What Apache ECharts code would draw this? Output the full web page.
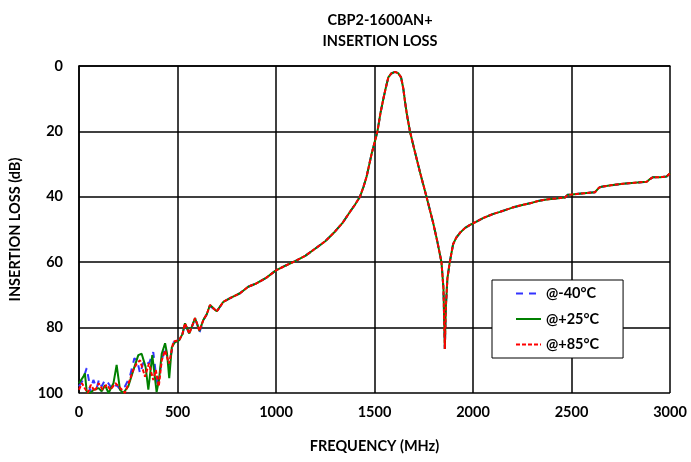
<!DOCTYPE html>
<html>
<head>
<meta charset="utf-8">
<script src="https://cdn.jsdelivr.net/npm/echarts@6/dist/echarts.min.js"></script>
<style>
html,body{margin:0;padding:0;background:#fff;}
#chart{width:691px;height:462px;}
</style>
</head>
<body>
<div id="chart"></div>
<script>
// Low-frequency (noisy) region, per temperature: [MHz, dB]
var low40 = [[0,98],[20,96],[39,92.4],[50,96],[56,99.5],[73,96],[90,98.5],[101,96],[115,98],[132,96],[149,97],[170,99],[191,97.5],[210,99],[233,98],[258,95],[281,89.4],[295,90],[310,94],[330,90],[355,91],[377,87.5],[390,94],[400,98],[420,90],[437,86],[457,91.5],[479,84.5],[509,83.8],[525,82],[538,79],[560,81.8],[589,77.3],[600,79],[611,81.6],[631,77.7],[648,76],[665,73.3],[699,75.1],[733,72.1],[767,71],[817,69.5],[859,67.5]];
var low25 = [[0,97],[22,95],[30,94],[39,99.5],[56,100],[75,99],[100,98.5],[115,99.5],[132,97.6],[150,100],[175,97],[191,91.4],[208,99],[225,100],[250,98],[276,93],[301,88.4],[318,88],[338,92],[352,99],[372,88.4],[394,99.7],[406,96],[420,88],[437,84.8],[447,88],[458,95.5],[471,86],[487,84.5],[509,83.8],[525,82],[538,78.7],[560,81.8],[589,77.1],[600,78.9],[611,81],[631,77.7],[648,76],[665,73.1],[699,75],[733,72.1],[767,71],[817,69.5],[859,67.5]];
var low85 = [[0,99],[15,97],[30,98.6],[45,100],[60,97.5],[80,99.5],[100,97],[120,99],[140,97.5],[160,99],[185,97],[210,98.5],[233,100],[258,96],[275,93],[293,91],[310,90],[335,95],[355,91],[377,96],[390,93],[405,98],[420,90],[437,87],[457,91],[479,84.3],[509,83.8],[525,82],[538,78.7],[560,81.8],[589,77.1],[600,78.9],[611,81],[631,77.7],[648,76],[665,73.1],[699,75.1],[733,72.1],[767,71],[817,69.5],[859,67.5]];
// Region where the three curves overlap: [MHz, dB]
var common = [[900,66.5],[950,64.8],[1000,62.5],[1050,61],[1100,59.6],[1150,58],[1200,55.8],[1250,53.6],[1300,50.6],[1340,47.8],[1380,44.2],[1400,42.5],[1426,40],[1445,36.8],[1460,33.8],[1486,26.7],[1500,23.5],[1515,20],[1530,14.5],[1545,10],[1558,6.5],[1570,3.5],[1585,2.3],[1604,1.8],[1620,2.2],[1635,3.5],[1646,6.8],[1655,11],[1665,15],[1680,20],[1700,25],[1731,32.5],[1764,40],[1798,48],[1820,54],[1840,60],[1850,68],[1857,86.5],[1862,74],[1870,65],[1882,60],[1899,54.5],[1915,52.5],[1934,51],[1960,49.5],[1985,48.6],[2020,47.5],[2051,46.5],[2100,45.3],[2137,44.6],[2200,43.3],[2250,42.5],[2289,42],[2330,41.3],[2374,40.8],[2420,40.5],[2467,40.2],[2480,39.4],[2500,39.3],[2550,39],[2619,38.6],[2640,37.2],[2653,36.9],[2700,36.5],[2762,36],[2820,35.7],[2882,35.4],[2900,34.5],[2914,34],[2950,34],[2983,33.8],[3000,32.8]];
var seriesNames = ['@-40°C','@+25°C','@+85°C'];
var titleText = 'CBP2-1600AN+\nINSERTION LOSS';
var xName = 'FREQUENCY (MHz)';
var yName = 'INSERTION LOSS (dB)';

var FONT = 'Lato, "Open Sans", sans-serif';
var chart = echarts.init(document.getElementById('chart'));
function mk(name, data, color, type, z){
  return {name:name, type:'line', data:data, symbol:'none', showSymbol:false, z:z,
    lineStyle:{color:color, width:2, type:type}, itemStyle:{color:color}, animation:false};
}
chart.setOption({
  animation:false,
  backgroundColor:'#fff',
  title:{text:titleText, left:375, top:5, textAlign:'center',
    textStyle:{fontFamily:FONT, fontSize:14.5, fontWeight:'bold', color:'#000', lineHeight:21}},
  grid:{left:79, right:21, top:66, bottom:69, show:false},
  legend:{orient:'vertical', left:492, top:280, padding:[6,24,6,23], itemGap:10.5,
    itemWidth:25, itemHeight:14, backgroundColor:'#fff', borderColor:'#000', borderWidth:1,
    itemStyle:{opacity:0},
    textStyle:{fontFamily:FONT, fontSize:14.5, fontWeight:'bold', color:'#000'},
    data:seriesNames},
  xAxis:{type:'value', min:0, max:3000, interval:500, name:xName, nameLocation:'middle', nameGap:46,
    nameTextStyle:{fontFamily:FONT, fontSize:14.5, fontWeight:'bold', color:'#000'},
    axisLine:{show:true, lineStyle:{color:'#000', width:1.5}}, axisTick:{show:false},
    axisLabel:{fontFamily:FONT, fontSize:14.5, fontWeight:'bold', color:'#000', margin:12,
      formatter:function(v){return String(v);}},
    splitLine:{show:true, lineStyle:{color:'#000', width:1.5}}},
  yAxis:{type:'value', min:0, max:100, interval:20, inverse:true, name:yName, nameLocation:'middle', nameGap:56,
    nameTextStyle:{fontFamily:FONT, fontSize:14.5, fontWeight:'bold', color:'#000'},
    axisLine:{show:true, lineStyle:{color:'#000', width:1.5}}, axisTick:{show:false},
    axisLabel:{fontFamily:FONT, fontSize:14.5, fontWeight:'bold', color:'#000', margin:16,
      formatter:function(v){return String(v);}},
    splitLine:{show:true, lineStyle:{color:'#000', width:1.5}}},
  series:[
    mk(seriesNames[0], low40.concat(common), '#3333ff', [7,6], 2),
    mk(seriesNames[1], low25.concat(common), '#008000', 'solid', 3),
    mk(seriesNames[2], low85.concat(common), '#ff0000', [4,2], 4)
  ]
});
</script>
</body>
</html>
